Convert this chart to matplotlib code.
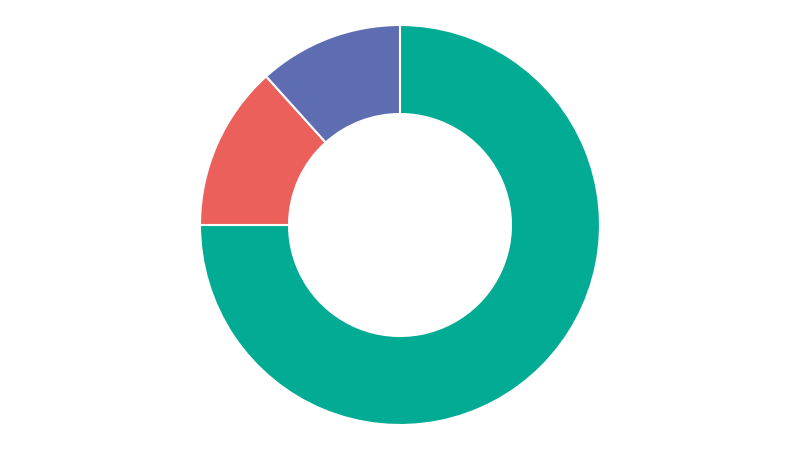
import matplotlib
matplotlib.use('Agg')
import matplotlib.pyplot as plt

# slice values, clockwise from 12 o'clock
labels = ['A', 'B', 'C']
values = [450, 80, 70]
colors = ['#02AB93', '#EB605A', '#5E6DB2']

fig = plt.figure(figsize=(8, 4.5), dpi=100)
ax = fig.add_axes([0, 0, 1, 1])

ax.pie(values, colors=colors, startangle=90, counterclock=False, radius=1.0,
       wedgeprops=dict(width=1.0 - 111 / 200, edgecolor='white', linewidth=1.5))

ax.set_xlim(-2, 2)
ax.set_ylim(-1.125, 1.125)
ax.set_aspect('equal')
ax.axis('off')

plt.savefig('out.png', dpi=100)
plt.close(fig)
